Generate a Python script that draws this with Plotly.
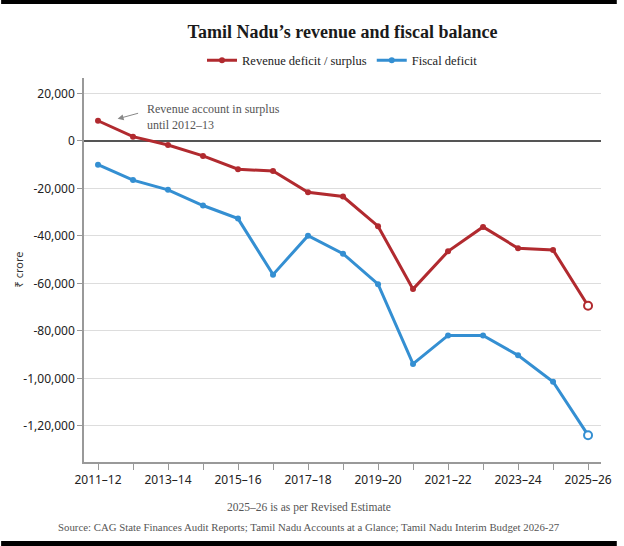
import plotly.graph_objects as go

# Tamil Nadu: revenue and fiscal balance, Rs crore
anios = ["2011–12", "2012–13", "2013–14", "2014–15", "2015–16", "2016–17",
         "2017–18", "2018–19", "2019–20", "2020–21", "2021–22", "2022–23",
         "2023–24", "2024–25", "2025–26"]
deficit_ingresos = [8500, 1800, -1700, -6300, -11900, -12700, -21600, -23400,
                    -35900, -62400, -46500, -36200, -45200, -45900, -69400]
deficit_fiscal = [-10000, -16500, -20600, -27200, -32700, -56300, -39900, -47500,
                  -60300, -93900, -81900, -81900, -90300, -101400, -123900]

valores_y = [20000, 0, -20000, -40000, -60000, -80000, -100000, -120000]
etiquetas_y = ["20,000", "0", "-20,000", "-40,000", "-60,000", "-80,000",
               "-1,00,000", "-1,20,000"]

ROJO = "#b12a2f"
AZUL = "#348fd2"
SERIF = "Liberation Serif, serif"
SANS = "Noto Sans, sans-serif"

fig = go.Figure()

for nombre, valores, color in [("Revenue deficit / surplus", deficit_ingresos, ROJO),
                               ("Fiscal deficit", deficit_fiscal, AZUL)]:
    fig.add_trace(go.Scatter(
        x=anios, y=valores, mode="lines+markers", name=nombre,
        line=dict(color=color, width=3),
        marker=dict(color=color, size=6),
        hoverinfo="x+y",
    ))
    # último año es estimación revisada: círculo abierto
    fig.add_trace(go.Scatter(
        x=anios[-1:], y=valores[-1:], mode="markers", showlegend=False,
        marker=dict(color="white", size=8, line=dict(color=color, width=2)),
        hoverinfo="x+y",
    ))

ticktext_x = [a if i % 2 == 0 else "" for i, a in enumerate(anios)]

fig.update_layout(
    width=624, height=546,
    margin=dict(l=84, r=16, t=78, b=84),
    paper_bgcolor="white", plot_bgcolor="white",
    title=dict(text="<b>Tamil Nadu’s revenue and fiscal balance</b>",
               font=dict(family=SERIF, size=18, color="#1a1a1a"),
               x=0.5, xref="paper", xanchor="center", y=0.942, yanchor="middle"),
    legend=dict(orientation="h", x=0.5, xanchor="center", y=1.045, yanchor="middle",
                font=dict(family=SERIF, size=12.5, color="#222"),
                itemwidth=30, traceorder="normal"),
    showlegend=True,
    xaxis=dict(
        type="category", range=[-0.4, 14.37],
        tickvals=anios, ticktext=ticktext_x,
        ticks="outside", ticklen=6, tickcolor="#999",
        showline=True, linecolor="#999", linewidth=1.5,
        showgrid=False, zeroline=False,
        tickfont=dict(family=SANS, size=12, color="#222"),
    ),
    yaxis=dict(
        range=[-135200, 26500],
        tickvals=valores_y, ticktext=etiquetas_y,
        ticks="outside", ticklen=5, tickcolor="#999",
        showline=True, linecolor="#999", linewidth=1.5,
        showgrid=True, gridcolor="#dddddd", gridwidth=1,
        zeroline=True, zerolinecolor="#555", zerolinewidth=1.5,
        tickfont=dict(family=SANS, size=12, color="#222"),
    ),
)

# título del eje y
fig.add_annotation(text="₹ crore", textangle=-90, xref="paper", yref="paper",
                   x=-0.147, y=0.5, showarrow=False,
                   font=dict(family=SANS, size=11, color="#333"))

# nota sobre el superávit
fig.add_annotation(text="Revenue account in surplus<br>until 2012–13",
                   xref="paper", yref="paper", x=(146 - 84) / 524, y=(462 - 100) / 384,
                   xanchor="left", yanchor="top", align="left", showarrow=False,
                   font=dict(family=SERIF, size=12, color="#555"))
fig.add_annotation(text="", x=0.56, y=9300, ax=22, ay=-6, showarrow=True,
                   arrowhead=2, arrowsize=1.2, arrowwidth=1, arrowcolor="#888")

# notas al pie, centradas en la figura
fig.add_annotation(text="2025–26 is as per Revised Estimate", xref="paper", yref="paper",
                   x=(312 - 84) / 524, y=-(507 - 462) / 384, xanchor="center", yanchor="middle",
                   showarrow=False, font=dict(family=SERIF, size=11.5, color="#555"))
fig.add_annotation(text="Source: CAG State Finances Audit Reports; Tamil Nadu Accounts at a Glance; "
                        "Tamil Nadu Interim Budget 2026-27",
                   xref="paper", yref="paper",
                   x=(312 - 84) / 524, y=-(527 - 462) / 384, xanchor="center", yanchor="middle",
                   showarrow=False, font=dict(family=SERIF, size=10.8, color="#555"))

# franjas negras arriba y abajo
fig.add_shape(type="rect", xref="paper", yref="paper", layer="above",
              x0=-84 / 524, x1=1 + 16 / 524, y0=1 + (78 - 4) / 384, y1=1 + 80 / 384,
              fillcolor="black", line=dict(width=0))
fig.add_shape(type="rect", xref="paper", yref="paper", layer="above",
              x0=-84 / 524, x1=1 + 16 / 524, y0=-(541 - 462) / 384, y1=-90 / 384,
              fillcolor="black", line=dict(width=0))

# sin margen del body ni barras de desplazamiento, para que la figura quede en (0, 0)
fig.write_html(
    "out.html",
    config={"displayModeBar": False},
    post_script="document.body.style.margin='0';document.body.style.overflow='hidden';",
)
